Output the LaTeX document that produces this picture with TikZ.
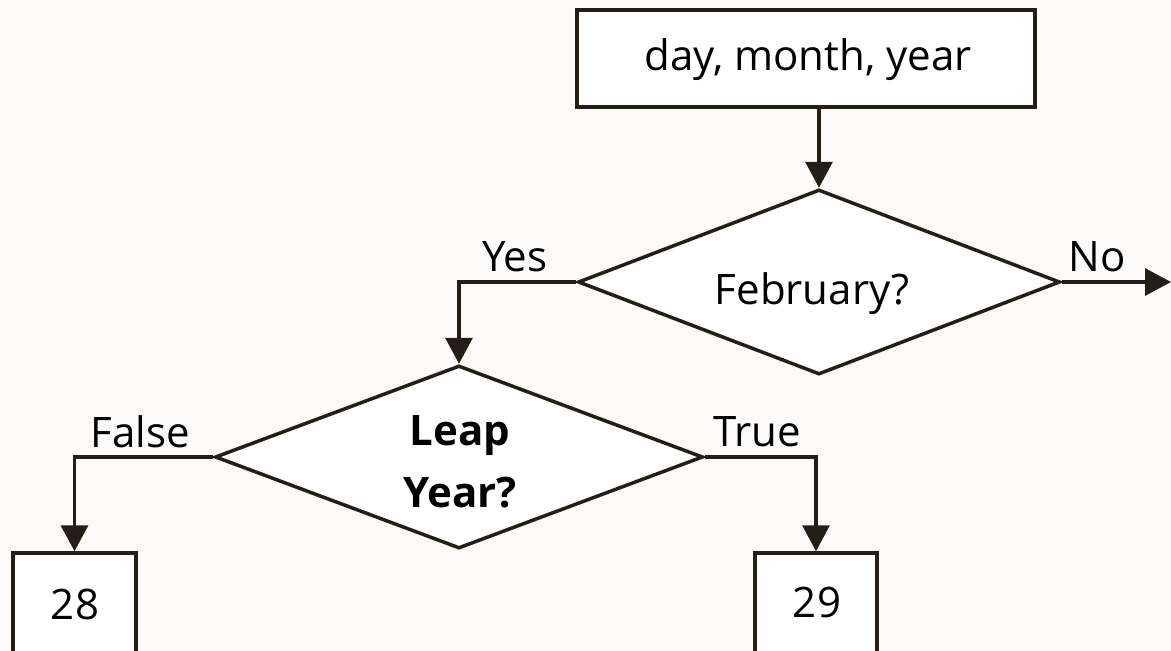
\documentclass[tikz,border=0pt]{standalone}
\usepackage{fontspec}
\setmainfont{Open Sans}
\usetikzlibrary{shapes.geometric,arrows.meta}
\definecolor{bg}{RGB}{253,250,250}
\definecolor{ink}{RGB}{35,31,22}
\begin{document}
\begin{tikzpicture}[x=1pt,y=-1pt,
  every node/.style={font=\fontsize{42}{62}\selectfont, text=black},
  box/.style={draw=ink, line width=3.5pt, fill=white, inner sep=0pt},
  decision/.style={diamond, draw=ink, line width=3.5pt, fill=white, inner sep=0pt},
  flow/.style={draw=ink, line width=3.5pt, -{Triangle[width=27pt,length=26pt]}},
  lbl/.style={inner sep=0pt}]
  \fill[bg] (0,0) rectangle (1171,651);
  \useasboundingbox (0,0) rectangle (1171,651);

  % input and the two decisions
  \node[box, minimum width=458pt, minimum height=97pt] (input) at (806,58.5) {};
  \node[lbl] (inputtxt) at (808,60) {day, month, year};
  \node[decision, minimum width=482pt, minimum height=185pt] (feb) at (819,282) {};
  \node[lbl] (febtxt) at (812,294) {February?};
  \node[decision, minimum width=488pt, minimum height=183pt] (leap) at (459,457) {};
  \node[lbl, align=center, font=\fontsize{42}{62}\selectfont\bfseries] (leaptxt) at (460,462) {Leap\\Year?};

  % results, running off the lower edge
  \node[box, minimum width=123pt, minimum height=120pt] (d28) at (74.5,613) {};
  \node[lbl] (t28) at (75,604) {28};
  \node[box, minimum width=122pt, minimum height=120pt] (d29) at (816,613) {};
  \node[lbl] (t29) at (817,602) {29};

  \coordinate (out) at (1171,282);

  % connectors
  \draw[flow] (feb.north |- input.south) -- (feb.north);
  \draw[flow] (feb.east) -- (out);
  \draw[flow] (feb.west) -| (leap.north);
  \draw[flow] (leap.west) -| (d28.north);
  \draw[flow] (leap.east) -| (d29.north);

  % branch labels
  \node[lbl] (yes) at (515,257) {Yes};
  \node[lbl] (no) at (1097,257) {No};
  \node[lbl] (false) at (140,432) {False};
  \node[lbl] (true) at (757,432) {True};
\end{tikzpicture}
\end{document}
